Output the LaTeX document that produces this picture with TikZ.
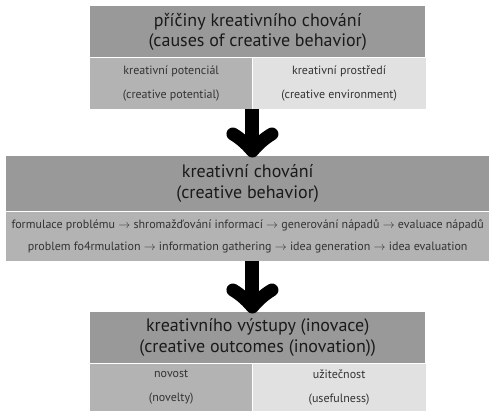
\documentclass[tikz,border=0pt]{standalone}
\usepackage{fontspec}
\setmainfont{PT Sans}
\usetikzlibrary{calc}
\definecolor{hdr}{HTML}{999999}
\definecolor{cellA}{HTML}{B3B3B3}
\definecolor{cellB}{HTML}{E1E1E1}
\definecolor{txtA}{HTML}{1A1A1A}
\definecolor{txtB}{HTML}{333333}
\tikzset{
  hbox/.style={fill=hdr, inner sep=0pt, text=txtA, align=center,
    font=\fontsize{18}{20.5}\selectfont, anchor=north west},
  cbox/.style={inner sep=0pt, text=txtB, align=center,
    font=\fontsize{12}{24}\selectfont, anchor=north west},
  bigarrow/.style={line width=14pt, black},
  barbs/.style={line width=13pt, black, line cap=round, line join=round},
}
\begin{document}
\begin{tikzpicture}[x=1pt,y=-1pt]
\useasboundingbox (0,0) rectangle (494,410);
% top block
\node[hbox, minimum width=335pt, minimum height=51pt] (h1) at (90,6)
  {příčiny kreativního chování\\(causes of creative behavior)};
\node[cbox, fill=cellA, minimum width=162pt, minimum height=51pt] (c1l) at (h1.south west)
  {kreativní potenciál\\(creative potential)};
\node[cbox, fill=cellB, minimum width=173pt, minimum height=51pt] (c1r) at (c1l.north east)
  {kreativní prostředí\\(creative environment)};
% middle block
\node[hbox, minimum width=483pt, minimum height=55pt] (h2) at (6,156)
  {kreativní chování\\(creative behavior)};
\node[cbox, fill=cellA, minimum width=483pt, minimum height=49pt,
  font=\fontsize{12}{22}\selectfont] (c2) at (h2.south west)
  {formulace problému $\rightarrow$ shromažďování informací $\rightarrow$ generování nápadů $\rightarrow$ evaluace nápadů\\
   problem fo4rmulation $\rightarrow$ information gathering $\rightarrow$ idea generation $\rightarrow$ idea evaluation};
% bottom block
\node[hbox, minimum width=335pt, minimum height=51pt] (h3) at (90,312)
  {kreativního výstupy (inovace)\\(creative outcomes (inovation))};
\node[cbox, fill=cellA, minimum width=162pt, minimum height=47pt] (c3l) at (h3.south west)
  {novost\\(novelty)};
\node[cbox, fill=cellB, minimum width=173pt, minimum height=47pt] (c3r) at (c3l.north east)
  {užitečnost\\(usefulness)};
% arrows
\coordinate (a1t) at (c1l.south east);
\coordinate (a1b) at (c1l.south east |- h2.north);
\coordinate (a2t) at (c1l.south east |- c2.south);
\coordinate (a2b) at (c1l.south east |- h3.north);
\draw[bigarrow] (a1t) -- ($(a1b)+(0,-8)$);
\draw[barbs] ($(a1b)+(-19.5,-22)$) .. controls ($(a1b)+(-11,-17)$) and ($(a1b)+(-4,-10)$) .. ($(a1b)+(0,-5)$)
  .. controls ($(a1b)+(4,-10)$) and ($(a1b)+(11,-17)$) .. ($(a1b)+(19.5,-22)$);
\draw[bigarrow] (a2t) -- ($(a2b)+(0,-8)$);
\draw[barbs] ($(a2b)+(-19.5,-22)$) .. controls ($(a2b)+(-11,-17)$) and ($(a2b)+(-4,-10)$) .. ($(a2b)+(0,-5)$)
  .. controls ($(a2b)+(4,-10)$) and ($(a2b)+(11,-17)$) .. ($(a2b)+(19.5,-22)$);
\end{tikzpicture}
\end{document}
